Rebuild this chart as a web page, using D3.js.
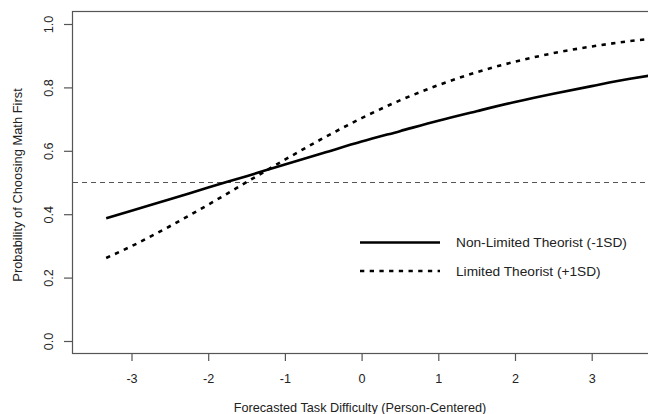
<!DOCTYPE html>
<html>
<head>
<meta charset="utf-8">
<script src="https://cdn.jsdelivr.net/npm/d3@7/dist/d3.min.js"></script>
<style>
  html, body { margin: 0; padding: 0; background: #fff; }
  svg { display: block; }
  text { font-family: "Liberation Sans", Arial, Helvetica, sans-serif; fill: #222; }
</style>
</head>
<body>
<svg id="chart" width="648" height="414"></svg>
<script>
// ---- data ----
const xValues    = [-3.33, -3.0, -2.5, -2.0, -1.5, -1.0, -0.5, 0, 0.5, 1.0, 1.5, 2.0, 2.5, 3.0, 3.5, 3.8];
const nonLimited = [0.387, 0.411, 0.447, 0.484, 0.520, 0.557, 0.593, 0.629, 0.662, 0.695, 0.725, 0.754, 0.780, 0.804, 0.827, 0.839];
const limited    = [0.262, 0.299, 0.362, 0.430, 0.501, 0.572, 0.640, 0.703, 0.759, 0.807, 0.848, 0.881, 0.908, 0.929, 0.946, 0.954];
const xTicks = [-3, -2, -1, 0, 1, 2, 3];
const xTickLabels = ["-3", "-2", "-1", "0", "1", "2", "3"];
const yTicks = [0.0, 0.2, 0.4, 0.6, 0.8, 1.0];
const yTickLabels = ["0.0", "0.2", "0.4", "0.6", "0.8", "1.0"];
const refLine = 0.5;
const seriesNames = ["Non-Limited Theorist (-1SD)", "Limited Theorist (+1SD)"];
const xTitle = "Forecasted Task Difficulty (Person-Centered)";
const yTitle = "Probability of Choosing Math First";

// ---- layout ----
const svg = d3.select("#chart");
const box = { left: 72, top: 11, bottom: 353, right: 660 };
const x = d3.scaleLinear().domain([-3, 3]).range([131.5, 591.7]);
const y = d3.scaleLinear().domain([0, 1]).range([341, 24]);
const axisColor = "#555";
const font = '"Liberation Sans", Arial, sans-serif';

svg.append("rect")
  .attr("x", box.left + 0.5).attr("y", box.top + 0.5)
  .attr("width", box.right - box.left).attr("height", box.bottom - box.top)
  .attr("fill", "none").attr("stroke", axisColor).attr("stroke-width", 1.2);

svg.append("clipPath").attr("id", "clip")
  .append("rect").attr("x", box.left + 1).attr("y", box.top + 1)
  .attr("width", 648 - box.left).attr("height", box.bottom - box.top - 2);

// x axis
const xAxis = svg.append("g").attr("transform", `translate(0, ${box.bottom})`)
  .call(d3.axisBottom(x).tickValues(xTicks).tickFormat((d, i) => xTickLabels[i]).tickSize(8));
xAxis.select(".domain").remove();
xAxis.selectAll(".tick line").attr("stroke", axisColor).attr("stroke-width", 1.2);
xAxis.selectAll(".tick text")
  .attr("y", 30).attr("dy", null)
  .style("font-size", "12.6px").attr("fill", "#222").style("font-family", font);

// y axis
const yAxis = svg.append("g").attr("transform", `translate(${box.left}, 0)`)
  .call(d3.axisLeft(y).tickValues(yTicks).tickFormat((d, i) => yTickLabels[i]).tickSize(8).tickPadding(0));
yAxis.select(".domain").remove();
yAxis.selectAll(".tick line").attr("stroke", axisColor).attr("stroke-width", 1.2);
yAxis.selectAll(".tick text")
  .attr("x", 0)
  .attr("transform", "translate(-23,0) rotate(-90)")
  .attr("text-anchor", "middle").attr("dy", "0.35em")
  .style("font-size", "12.6px").attr("fill", "#222").style("font-family", font);

// reference line at 0.5
svg.append("line")
  .attr("x1", box.left + 1).attr("x2", 648)
  .attr("y1", y(refLine)).attr("y2", y(refLine))
  .attr("stroke", "#555").attr("stroke-width", 1).attr("stroke-dasharray", "5,4");

// curves
const line = d3.line().x(d => x(d[0])).y(d => y(d[1])).curve(d3.curveMonotoneX);
const g = svg.append("g").attr("clip-path", "url(#clip)");
g.append("path").datum(xValues.map((v, i) => [v, nonLimited[i]]))
  .attr("d", line).attr("fill", "none").attr("stroke", "#000").attr("stroke-width", 2.6);
g.append("path").datum(xValues.map((v, i) => [v, limited[i]]))
  .attr("d", line).attr("fill", "none").attr("stroke", "#000").attr("stroke-width", 2.6)
  .attr("stroke-dasharray", "4.3,5.4");

// legend
const legend = svg.append("g");
const legItems = [
  { name: seriesNames[0], dash: null, y: 242.5 },
  { name: seriesNames[1], dash: "4.3,5.4", y: 271 }
];
legItems.forEach(it => {
  legend.append("line").attr("x1", 360).attr("x2", 440).attr("y1", it.y).attr("y2", it.y)
    .attr("stroke", "#000").attr("stroke-width", 2.6)
    .attr("stroke-dasharray", it.dash);
  legend.append("text").attr("x", 456).attr("y", it.y).attr("dy", "0.36em")
    .style("font-size", "13.7px").text(it.name);
});

// axis titles
svg.append("text").attr("x", 360).attr("y", 411.5).attr("text-anchor", "middle")
  .style("font-size", "12.7px").text(xTitle);
svg.append("text").attr("transform", "translate(22,185) rotate(-90)").attr("text-anchor", "middle")
  .style("font-size", "12.9px").text(yTitle);
</script>
</body>
</html>
